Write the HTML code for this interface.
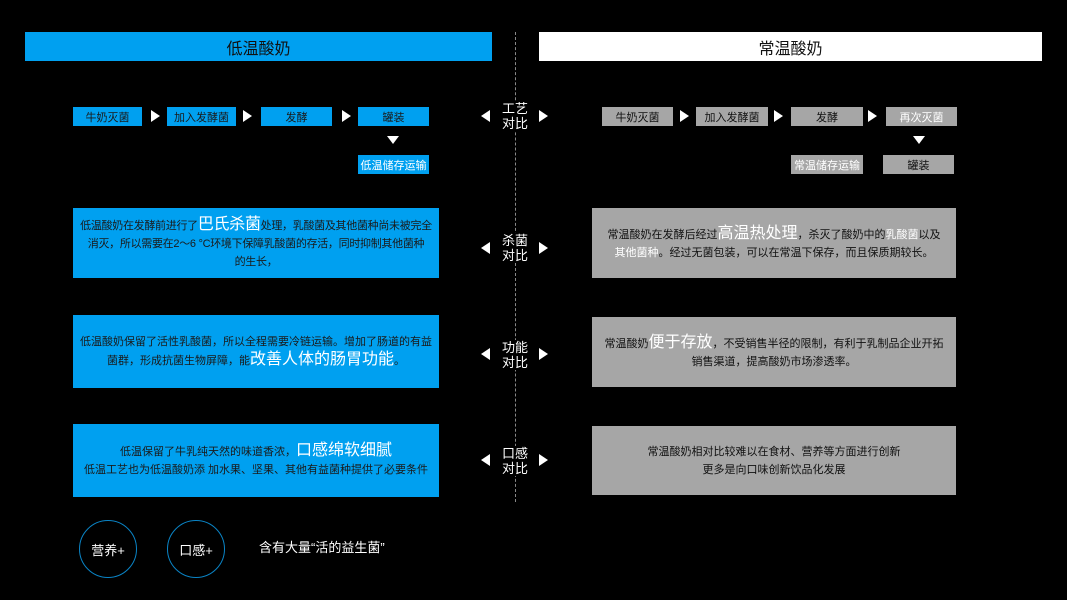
<!DOCTYPE html>
<html><head><meta charset="utf-8"><style>
*{margin:0;padding:0;box-sizing:border-box}
body{width:1067px;height:600px;background:#000;position:relative;overflow:hidden;font-family:"Liberation Sans","Noto Sans CJK SC",sans-serif}
.a{position:absolute}
.b{background:#00a0f0}
.g{background:#a6a6a6}
.st{position:absolute;height:19px;font-size:11px;display:flex;align-items:center;justify-content:center;color:#fff}
.st.b{color:#1a1a1a}
.st.g{color:#111}
.tr{position:absolute;width:0;height:0;border-top:6px solid transparent;border-bottom:6px solid transparent;border-left:9px solid #fff}
.tl{position:absolute;width:0;height:0;border-top:6px solid transparent;border-bottom:6px solid transparent;border-right:9px solid #fff}
.td{position:absolute;width:0;height:0;border-left:6px solid transparent;border-right:6px solid transparent;border-top:8px solid #fff}
.box{position:absolute;display:flex;align-items:center;justify-content:center;text-align:center;font-size:11px;line-height:18px;color:#1a1a1a;padding:0}
.box>div{width:100%;white-space:nowrap}
.box.g{color:#111}
.h{color:#fff;font-size:16px}
.lab{position:absolute;width:30px;font-size:13px;line-height:15px;color:#fff;text-align:center}
.c{position:absolute;width:58px;height:58px;border:1.5px solid #0a84c6;border-radius:50%;color:#fff;font-size:13px;display:flex;align-items:center;justify-content:center}
</style></head><body>
<div class="a b" style="left:25px;top:32px;width:467px;height:29px;display:flex;align-items:center;justify-content:center;font-size:16px;color:#111">低温酸奶</div>
<div class="a" style="left:539px;top:32px;width:503px;height:29px;background:#fff;display:flex;align-items:center;justify-content:center;font-size:16px;color:#111">常温酸奶</div>
<div class="a" style="left:515px;top:32px;height:470px;border-left:1px dashed #888"></div>

<div class="st b" style="left:73px;top:107px;width:69px">牛奶灭菌</div>
<div class="st b" style="left:167px;top:107px;width:69px">加入发酵菌</div>
<div class="st b" style="left:261px;top:107px;width:71px">发酵</div>
<div class="st b" style="left:358px;top:107px;width:71px">罐装</div>
<div class="tr" style="left:151px;top:110px"></div>
<div class="tr" style="left:243px;top:110px"></div>
<div class="tr" style="left:342px;top:110px"></div>
<div class="td" style="left:387px;top:136px"></div>
<div class="st b" style="left:358px;top:155px;width:71px;color:#fff">低温储存运输</div>

<div class="st g" style="left:602px;top:107px;width:71px">牛奶灭菌</div>
<div class="st g" style="left:696px;top:107px;width:72px">加入发酵菌</div>
<div class="st g" style="left:791px;top:107px;width:72px">发酵</div>
<div class="st g" style="left:886px;top:107px;width:71px;color:#fff">再次灭菌</div>
<div class="tr" style="left:680px;top:110px"></div>
<div class="tr" style="left:774px;top:110px"></div>
<div class="tr" style="left:868px;top:110px"></div>
<div class="td" style="left:913px;top:136px"></div>
<div class="st g" style="left:791px;top:155px;width:72px;color:#fff">常温储存运输</div>
<div class="st g" style="left:883px;top:155px;width:71px">罐装</div>

<div class="box b" style="left:73px;top:208px;width:366px;height:70px"><div style="letter-spacing:-0.3px">低温酸奶在发酵前进行了<span class="h">巴氏杀菌</span>处理，乳酸菌及其他菌种尚未被完全<br>消灭，所以需要在2～6 °C环境下保障乳酸菌的存活，同时抑制其他菌种<br>的生长，</div></div>
<div class="box g" style="left:592px;top:208px;width:364px;height:70px"><div>常温酸奶在发酵后经过<span class="h">高温热处理</span>，杀灭了酸奶中的<span style="color:#fff">乳酸菌</span>以及<br><span style="color:#fff">其他菌种</span>。经过无菌包装，可以在常温下保存，而且保质期较长。</div></div>
<div class="box b" style="left:73px;top:315px;width:366px;height:73px"><div>低温酸奶保留了活性乳酸菌，所以全程需要冷链运输。增加了肠道的有益<br>菌群，形成抗菌生物屏障，能<span class="h">改善人体的肠胃功能</span>。</div></div>
<div class="box g" style="left:592px;top:317px;width:364px;height:70px"><div>常温酸奶<span class="h">便于存放</span>，不受销售半径的限制，有利于乳制品企业开拓<br>销售渠道，提高酸奶市场渗透率。</div></div>
<div class="box b" style="left:73px;top:424px;width:366px;height:73px"><div>低温保留了牛乳纯天然的味道香浓，<span class="h">口感绵软细腻</span><br>低温工艺也为低温酸奶添 加水果、坚果、其他有益菌种提供了必要条件</div></div>
<div class="box g" style="left:592px;top:426px;width:364px;height:69px"><div>常温酸奶相对比较难以在食材、营养等方面进行创新<br>更多是向口味创新饮品化发展</div></div>

<div class="lab" style="left:500px;top:101px;background:#000">工艺<br>对比</div>
<div class="lab" style="left:500px;top:233px;background:#000">杀菌<br>对比</div>
<div class="lab" style="left:500px;top:340px;background:#000">功能<br>对比</div>
<div class="lab" style="left:500px;top:446px;background:#000">口感<br>对比</div>
<div class="tl" style="left:481px;top:110px"></div><div class="tr" style="left:539px;top:110px"></div>
<div class="tl" style="left:481px;top:242px"></div><div class="tr" style="left:539px;top:242px"></div>
<div class="tl" style="left:481px;top:348px"></div><div class="tr" style="left:539px;top:348px"></div>
<div class="tl" style="left:481px;top:454px"></div><div class="tr" style="left:539px;top:454px"></div>

<div class="c" style="left:79px;top:520px">营养+</div>
<div class="c" style="left:167px;top:520px">口感+</div>
<div class="a" style="left:259px;top:537px;font-size:13px;color:#fff">含有大量“活的益生菌”</div>
</body></html>
